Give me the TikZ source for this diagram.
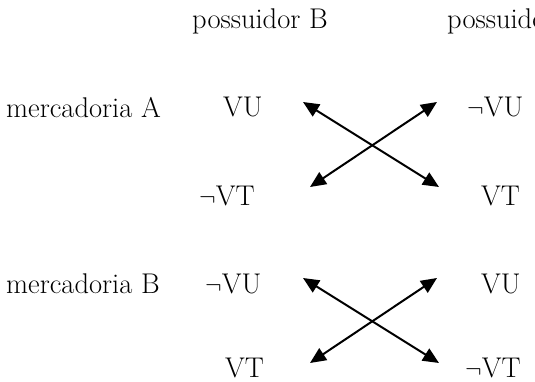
\documentclass[tikz,border=0pt]{standalone}
\usepackage{tikz}
\usetikzlibrary{arrows.meta}
\begin{document}
\begin{tikzpicture}[x=1pt, y=-1pt,
    lab/.style={anchor=base west, inner sep=0pt, font=\fontsize{28.5}{34}\selectfont},
    link/.style={{Triangle[length=16pt,width=14pt]}-{Triangle[length=16pt,width=14pt]}, line width=2pt}]
  \useasboundingbox (0,0) rectangle (535,382);
  % column heads
  \node[lab] (ownerB) at (192,29) {possuidor B};
  \node[lab] (ownerA) at (447,29) {possuidor A};
  % row heads
  \node[lab] (goodsA) at (6,118) {mercadoria A};
  \node[lab] (goodsB) at (6,293) {mercadoria B};
  % values, upper block
  \node[lab] (vuBA) at (223,117) {VU};
  \node[lab] (vtBA) at (199,205) {$\neg$VT};
  \node[lab] (vuAA) at (467,117) {$\neg$VU};
  \node[lab] (vtAA) at (481,205) {VT};
  % values, lower block
  \node[lab] (vuBB) at (205,293) {$\neg$VU};
  \node[lab] (vtBB) at (225,377) {VT};
  \node[lab] (vuAB) at (481,293) {VU};
  \node[lab] (vtAB) at (465,377) {$\neg$VT};
  % crossing arrows
  \foreach \r/\top/\bot in {A/102/187, B/278/363}{
    \coordinate (nw\r) at (303,\top);
    \coordinate (se\r) at (439,\bot);
    \coordinate (ne\r) at (437,\top);
    \coordinate (sw\r) at (310,\bot);
    \draw[link] (nw\r) -- (se\r);
    \draw[link] (ne\r) -- (sw\r);
  }
\end{tikzpicture}
\end{document}
